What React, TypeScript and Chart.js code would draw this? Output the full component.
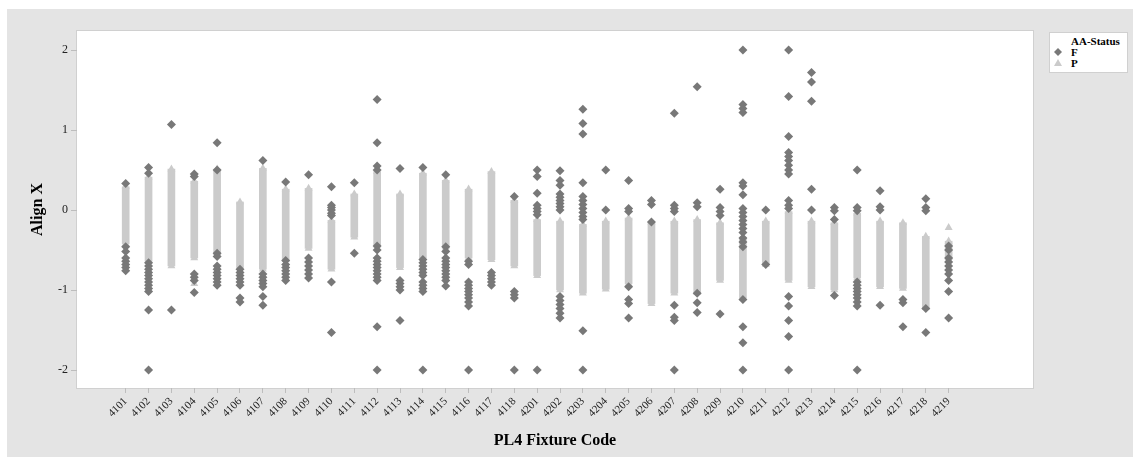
import React, { useEffect, useRef } from "react";
import { Chart, registerables } from "chart.js";

Chart.register(...registerables);

const SERIF = "'Liberation Serif', 'Times New Roman', Times, serif";

const codes = [
  "4101", "4102", "4103", "4104", "4105", "4106", "4107", "4108", "4109", "4110",
  "4111", "4112", "4113", "4114", "4115", "4116", "4117", "4118", "4201", "4202",
  "4203", "4204", "4205", "4206", "4207", "4208", "4209", "4210", "4211", "4212",
  "4213", "4214", "4215", "4216", "4217", "4218", "4219",
];

// P (pass) observations: upper and lower ends of each dense column
const pTop = [
  0.29, 0.41, 0.51, 0.36, 0.51, 0.1, 0.52, 0.26, 0.27, -0.13,
  0.2, 0.48, 0.2, 0.46, 0.37, 0.26, 0.48, 0.12, -0.12, -0.14,
  -0.18, -0.14, -0.1, -0.16, -0.14, -0.12, -0.16, -0.34, -0.14, -0.02,
  -0.14, -0.16, -0.04, -0.14, -0.16, -0.33, -0.39,
];
const pBottom = [
  -0.42, -0.64, -0.7, -0.6, -0.56, -0.72, -0.74, -0.62, -0.48, -0.74,
  -0.34, -0.44, -0.72, -0.6, -0.48, -0.6, -0.62, -0.7, -0.82, -1.0,
  -1.04, -0.99, -0.92, -1.17, -1.04, -1.03, -0.88, -1.1, -0.68, -0.88,
  -0.96, -1.0, -0.85, -0.96, -0.98, -1.22, -0.62,
];
// isolated P observations (category index, value)
const pExtraIdx = [3, 36];
const pExtraVal = [-0.92, -0.22];

// F (fail) observations per fixture code
const fValues: number[][] = [
  [0.33, -0.46, -0.52, -0.6, -0.64, -0.68, -0.72, -0.76],
  [0.53, 0.46, -0.66, -0.7, -0.74, -0.78, -0.82, -0.86, -0.9, -0.94, -0.98, -1.02, -1.25, -2.0],
  [1.07, -1.25],
  [0.45, 0.42, -0.8, -0.84, -0.88, -1.03],
  [0.84, 0.5, -0.54, -0.58, -0.7, -0.74, -0.78, -0.82, -0.86, -0.9, -0.94],
  [-0.74, -0.78, -0.82, -0.86, -0.9, -0.94, -1.1, -1.15],
  [0.62, -0.8, -0.84, -0.88, -0.92, -0.96, -1.08, -1.19],
  [0.35, -0.63, -0.68, -0.72, -0.76, -0.8, -0.84, -0.88],
  [0.44, -0.6, -0.65, -0.7, -0.75, -0.8, -0.85],
  [0.29, 0.06, 0.03, 0.0, -0.04, -0.07, -0.9, -1.53],
  [0.34, -0.54],
  [1.38, 0.84, 0.55, 0.5, -0.45, -0.5, -0.6, -0.64, -0.68, -0.72, -0.76, -0.8, -0.84, -0.88, -1.46, -2.0],
  [0.52, -0.88, -0.92, -0.96, -1.0, -1.38],
  [0.53, -0.62, -0.66, -0.7, -0.74, -0.78, -0.82, -0.9, -0.94, -0.98, -1.02, -2.0],
  [0.44, -0.46, -0.52, -0.6, -0.64, -0.68, -0.72, -0.76, -0.8, -0.84, -0.88, -0.95],
  [-0.64, -0.68, -0.9, -0.94, -0.98, -1.02, -1.06, -1.1, -1.15, -1.2, -2.0],
  [-0.78, -0.82, -0.86, -0.9, -0.94],
  [0.17, -1.02, -1.06, -1.1, -2.0],
  [0.5, 0.42, 0.21, 0.06, 0.02, -0.02, -0.06, -2.0],
  [0.49, 0.37, 0.31, 0.2, 0.16, 0.12, 0.08, 0.04, 0.0, -1.08, -1.13, -1.18, -1.23, -1.29, -1.35],
  [1.26, 1.08, 0.95, 0.34, 0.17, 0.12, 0.07, 0.02, -0.03, -0.08, -0.12, -1.51, -2.0],
  [0.5, 0.0],
  [0.37, 0.02, -0.02, -0.96, -1.12, -1.17, -1.35],
  [0.12, 0.07, -0.15],
  [1.21, 0.06, 0.02, -0.02, -1.19, -1.34, -1.38, -2.0],
  [1.54, 0.09, 0.04, -1.04, -1.16, -1.28],
  [0.26, 0.03, -0.02, -0.07, -1.3],
  [2.0, 1.32, 1.27, 1.22, 0.34, 0.3, 0.19, 0.02, -0.03, -0.08, -0.13, -0.18, -0.23, -0.28, -0.35, -0.4, -0.46, -1.12, -1.46, -1.66, -2.0],
  [0.0, -0.68],
  [2.0, 1.42, 0.92, 0.72, 0.67, 0.62, 0.56, 0.5, 0.45, 0.12, 0.06, 0.02, -1.08, -1.2, -1.38, -1.58, -2.0],
  [1.72, 1.6, 1.36, 0.26, 0.0],
  [0.03, -0.01, -0.12, -1.07],
  [0.5, 0.03, -0.01, -0.9, -0.94, -0.98, -1.02, -1.06, -1.1, -1.15, -1.2, -2.0],
  [0.24, 0.04, 0.0, -1.19],
  [-1.12, -1.16, -1.46],
  [0.14, 0.03, -0.01, -1.23, -1.53],
  [-0.45, -0.5, -0.6, -0.65, -0.7, -0.75, -0.8, -0.88, -1.02, -1.35],
];

const yTicks = [-2, -1, 0, 1, 2];

const F_COLOR = "#787878";
const P_COLOR = "#cbcbcb";

const framePlugin = {
  id: "plotFrame",
  beforeDraw(chart: any) {
    const { ctx, chartArea: a } = chart;
    ctx.save();
    ctx.fillStyle = "#ffffff";
    ctx.fillRect(a.left, a.top, a.right - a.left, a.bottom - a.top);
    ctx.strokeStyle = "#d0d0d0";
    ctx.lineWidth = 1;
    ctx.strokeRect(a.left - 0.5, a.top - 0.5, a.right - a.left + 1, a.bottom - a.top + 1);
    ctx.restore();
  },
};

export default function App() {
  const canvasRef = useRef<HTMLCanvasElement | null>(null);

  useEffect(() => {
    if (!canvasRef.current) return;
    const fPoints = fValues.flatMap((vals, i) => vals.map((v) => ({ x: i, y: v })));
    const pPoints = [
      ...codes.map((_, i) => ({ x: i, y: pTop[i] })),
      ...codes.map((_, i) => ({ x: i, y: pBottom[i] })),
      ...pExtraIdx.map((idx, k) => ({ x: idx, y: pExtraVal[k] })),
    ];
    const pBars = codes.map((_, i) => ({ x: i, y: [pBottom[i], pTop[i]] }));

    const chart = new Chart(canvasRef.current, {
      type: "scatter",
      data: {
        datasets: [
          {
            type: "scatter",
            label: "F",
            data: fPoints,
            pointStyle: "rectRot",
            pointRadius: 4.5,
            backgroundColor: F_COLOR,
            borderColor: F_COLOR,
            borderWidth: 0,
            order: 0,
          },
          {
            type: "scatter",
            label: "P",
            data: pPoints,
            pointStyle: "triangle",
            pointRadius: 4.6,
            backgroundColor: P_COLOR,
            borderColor: P_COLOR,
            borderWidth: 0,
            order: 1,
          },
          {
            type: "bar",
            label: "P range",
            data: pBars as any,
            backgroundColor: P_COLOR,
            borderWidth: 0,
            barThickness: 7,
            order: 2,
          },
        ] as any,
      },
      options: {
        animation: false,
        responsive: false,
        maintainAspectRatio: false,
        events: [],
        layout: { padding: { left: 0, right: 100, top: 22, bottom: 0 } },
        plugins: {
          legend: { display: false },
          tooltip: { enabled: false },
        },
        scales: {
          x: {
            type: "linear",
            min: -2.13,
            max: 39.69,
            offset: false,
            afterBuildTicks: (s: any) => {
              s.ticks = codes.map((_, i) => ({ value: i }));
            },
            afterFit: (s: any) => {
              s.height = 69;
            },
            ticks: {
              autoSkip: false,
              maxRotation: 45,
              minRotation: 45,
              padding: 2,
              color: "#222",
              font: { family: SERIF, size: 11 },
              callback: (v: any) => codes[Math.round(Number(v))] ?? "",
            },
            grid: {
              offset: false,
              drawOnChartArea: false,
              drawTicks: true,
              tickLength: 5,
              color: "#bdbdbd",
            },
            border: { display: false },
            title: {
              display: true,
              text: "PL4 Fixture Code",
              color: "#000",
              font: { family: SERIF, size: 16, weight: "bold" },
              padding: { top: 0, bottom: 7 },
            },
          },
          y: {
            type: "linear",
            min: -2.225,
            max: 2.2375,
            beginAtZero: false,
            afterBuildTicks: (s: any) => {
              s.ticks = yTicks.map((v) => ({ value: v }));
            },
            afterFit: (s: any) => {
              s.width = 70;
            },
            ticks: {
              padding: 3,
              color: "#222",
              font: { family: SERIF, size: 12 },
              callback: (v: any) => String(v),
            },
            grid: {
              offset: false,
              drawOnChartArea: false,
              drawTicks: true,
              tickLength: 6,
              color: "#bdbdbd",
            },
            border: { display: false },
            title: {
              display: true,
              text: "Align X",
              color: "#000",
              font: { family: SERIF, size: 16, weight: "bold" },
              padding: { top: 21, bottom: 0 },
            },
          },
        },
      } as any,
      plugins: [framePlugin],
    });
    return () => chart.destroy();
  }, []);

  const legendText: React.CSSProperties = {
    position: "absolute",
    left: 21,
    fontFamily: SERIF,
    fontWeight: "bold",
    fontSize: 11,
    lineHeight: "11px",
    color: "#000",
    whiteSpace: "nowrap",
  };

  return (
    <div
      style={{
        position: "absolute",
        left: 7,
        top: 9,
        width: 1126,
        height: 448,
        background: "#e4e4e4",
        overflow: "hidden",
      }}
    >
      <canvas ref={canvasRef} width={1126} height={448} style={{ display: "block" }} />
      <div
        style={{
          position: "absolute",
          left: 1042,
          top: 23,
          width: 79,
          height: 41,
          boxSizing: "border-box",
          background: "#ffffff",
          border: "1px solid #d0d0d0",
        }}
      >
        <span style={{ ...legendText, top: 3 }}>AA-Status</span>
        <svg width={8} height={8} style={{ position: "absolute", left: 4, top: 15 }}>
          <polygon points="4,0 8,4 4,8 0,4" fill={F_COLOR} />
        </svg>
        <span style={{ ...legendText, top: 14 }}>F</span>
        <svg width={8} height={7} style={{ position: "absolute", left: 4, top: 26 }}>
          <polygon points="4,0 8,7 0,7" fill={P_COLOR} />
        </svg>
        <span style={{ ...legendText, top: 25 }}>P</span>
      </div>
    </div>
  );
}
